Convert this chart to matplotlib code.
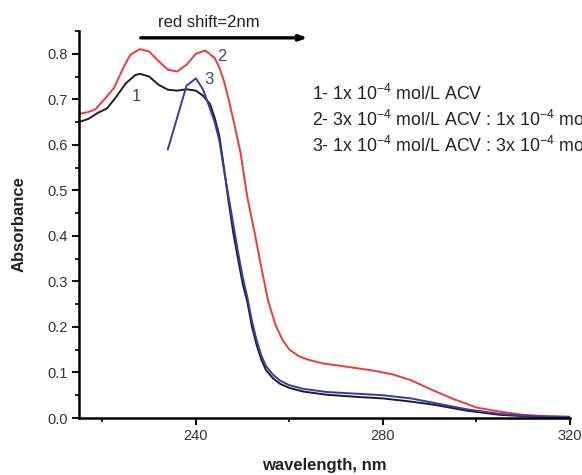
import matplotlib
matplotlib.use("Agg")
import matplotlib.pyplot as plt
from matplotlib.ticker import MultipleLocator

plt.rcParams['font.family'] = ['Liberation Sans', 'DejaVu Sans']
plt.rcParams['mathtext.fontset'] = 'custom'
plt.rcParams['mathtext.rm'] = 'Liberation Sans'
plt.rcParams['mathtext.it'] = 'Liberation Sans'

# Curve 1: 1x10^-4 mol/L ACV
wl1 = [215, 217, 219, 221, 223, 225, 227, 228, 230, 232, 234, 236, 238, 240, 241.5, 243, 244,
       245, 246, 247, 248, 249, 250, 251, 252, 253, 254, 255, 256.5, 258, 260, 263, 268, 275,
       280, 286, 291, 298, 305, 312, 320]
ab1 = [0.650, 0.657, 0.670, 0.680, 0.706, 0.735, 0.753, 0.756, 0.750, 0.732, 0.721, 0.719, 0.722,
       0.719, 0.708, 0.690, 0.660, 0.620, 0.550, 0.475, 0.406, 0.350, 0.295, 0.255, 0.200, 0.160,
       0.128, 0.105, 0.087, 0.075, 0.066, 0.058, 0.051, 0.046, 0.043, 0.036, 0.029, 0.016, 0.007,
       0.003, 0.001]

# Curve 2
wl2 = [215, 217, 218.5, 220, 222.5, 224.5, 226, 228, 230, 232, 234, 236, 238, 240, 242, 244, 245,
       246, 247, 248, 249.5, 251, 252.5, 254, 255.5, 257, 258.5, 260, 262, 264, 267, 272, 278, 282,
       286, 290, 295, 300, 305, 310, 315, 320]
ab2 = [0.668, 0.672, 0.678, 0.695, 0.725, 0.770, 0.798, 0.810, 0.805, 0.784, 0.765, 0.761, 0.776,
       0.800, 0.807, 0.791, 0.770, 0.740, 0.700, 0.655, 0.585, 0.485, 0.410, 0.330, 0.255, 0.205,
       0.172, 0.150, 0.136, 0.128, 0.120, 0.113, 0.104, 0.096, 0.083, 0.064, 0.042, 0.023, 0.014,
       0.007, 0.004, 0.003]

# Curve 3
wl3 = [234, 238, 240, 241.5, 243, 244, 245, 246, 247, 248, 249, 250, 251, 252, 253, 254, 255,
       256.5, 258, 260, 263, 268, 275, 280, 286, 291, 298, 305, 312, 320]
ab3 = [0.590, 0.730, 0.746, 0.722, 0.680, 0.650, 0.610, 0.545, 0.485, 0.425, 0.365, 0.310, 0.265,
       0.212, 0.170, 0.137, 0.114, 0.095, 0.082, 0.072, 0.064, 0.057, 0.053, 0.050, 0.043, 0.033,
       0.019, 0.009, 0.004, 0.002]

legend_lines = [
    r"1- 1x 10$^{\mathregular{-4}}$ mol/L ACV",
    r"2- 3x 10$^{\mathregular{-4}}$ mol/L ACV : 1x 10$^{\mathregular{-4}}$ mol/L",
    r"3- 1x 10$^{\mathregular{-4}}$ mol/L ACV : 3x 10$^{\mathregular{-4}}$ mol/L",
]

fig = plt.figure(figsize=(5.82, 4.75), dpi=100)
ax = fig.add_axes([79/582, 57/475, (570-79)/582, (418-31)/475])

ax.plot(wl1, ab1, color='#1e1e1e', lw=1.4)
ax.plot(wl2, ab2, color='#f03a3a', lw=1.4)
ax.plot(wl3, ab3, color='#3a3aa6', lw=1.4)

ax.set_xlim(215, 320)
ax.set_ylim(0, 0.85)
ax.xaxis.set_minor_locator(MultipleLocator(20))
ax.set_xticks([240, 280, 320])
ax.yaxis.set_major_locator(MultipleLocator(0.1))
ax.yaxis.set_minor_locator(MultipleLocator(0.05))
ax.yaxis.set_major_formatter(matplotlib.ticker.FormatStrFormatter('%.1f'))

for s in ['top', 'right']:
    ax.spines[s].set_visible(False)
for s in ['left', 'bottom']:
    ax.spines[s].set_linewidth(1.8)
ax.tick_params(which='major', direction='out', length=5, width=1.5, labelsize=10.5,
               colors='#111111', labelcolor='#333333', pad=3)
ax.tick_params(which='minor', direction='out', length=3, width=1.3, colors='#111111')

ax.set_xlabel('wavelength, nm', fontsize=12, fontweight='bold', labelpad=11, color='#222222')
ax.set_ylabel('Absorbance', fontsize=12, fontweight='bold', labelpad=15, color='#222222')

# arrow and text
ax.annotate('', xy=(264.5, 0.835), xytext=(227.6, 0.835),
            arrowprops=dict(arrowstyle='-|>,head_length=0.45,head_width=0.16', lw=2.4, color='black'),
            annotation_clip=False)
ax.text(242.8, 0.868, 'red shift=2nm', ha='center', va='center', fontsize=12,
        color='#222222', clip_on=False)

# curve numbers
num_color = '#3e4a66'
ax.text(227.3, 0.706, '1', ha='center', va='center', fontsize=12, color=num_color)
ax.text(245.6, 0.795, '2', ha='center', va='center', fontsize=12, color=num_color)
ax.text(242.8, 0.743, '3', ha='center', va='center', fontsize=12, color=num_color)

ys = [0.712, 0.655, 0.598]
for t, y in zip(legend_lines, ys):
    ax.text(264.8, y, t, ha='left', va='center', fontsize=12.8, color='#222222', clip_on=False)

fig.savefig('out.png', dpi=100)
